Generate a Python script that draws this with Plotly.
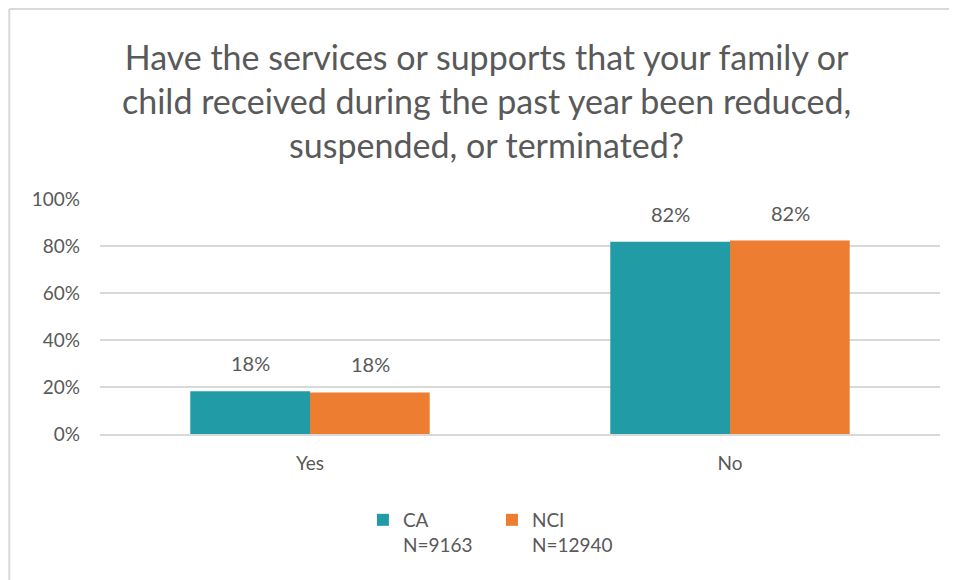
import plotly.graph_objects as go

# datos
categorias = ["Yes", "No"]
ca_vals = [0.182, 0.818]
nci_vals = [0.177, 0.823]
series = ["CA<br>N=9163", "NCI<br>N=12940"]
colores = ["#219CA6", "#ED7D31"]

titulo = ("Have the services or supports that your family or<br>"
          "child received during the past year been reduced,<br>"
          "suspended, or terminated?")

gris = "#595959"
fuente = "Lato, Open Sans, sans-serif"

fig = go.Figure()
for nombre, vals, color in zip(series, [ca_vals, nci_vals], colores):
    fig.add_trace(go.Bar(x=categorias, y=vals, name=nombre, marker_color=color,
                         marker_line_width=0))

# etiquetas de datos encima de cada barra
for desplaz, vals in zip([-60, 60], [ca_vals, nci_vals]):
    for cat, v in zip(categorias, vals):
        fig.add_annotation(x=cat, y=v, xref="x", yref="y", text=f"{v:.0%}",
                           showarrow=False, xshift=desplaz, yshift=14, yanchor="bottom",
                           font=dict(size=20, color=gris, family=fuente))

# titulo como anotacion para controlar la posicion
fig.add_annotation(text=titulo, xref="paper", yref="paper", x=0.4607, y=1.421,
                   xanchor="center", yanchor="middle", showarrow=False,
                   font=dict(size=34, color=gris, family=fuente))

fig.update_layout(
    width=949, height=572,
    margin=dict(l=92, r=17, t=191, b=146),
    paper_bgcolor="white", plot_bgcolor="white",
    font=dict(family=fuente, color=gris, size=19),
    barmode="group", bargap=0.43, bargroupgap=0,
    legend=dict(orientation="h", x=0.313, xanchor="left", y=-0.285, yanchor="top",
                valign="top", itemwidth=30, entrywidth=84,
                font=dict(size=19, color=gris)),
    showlegend=True,
)
fig.update_yaxes(range=[0, 1], dtick=0.2, tickformat=".0%", showgrid=True,
                 gridcolor="#D9D9D9", gridwidth=2, zeroline=False,
                 tickfont=dict(size=19, color=gris), ticklabelstandoff=19)
fig.update_xaxes(showline=True, linecolor="#D9D9D9", linewidth=2,
                 tickfont=dict(size=19, color=gris), ticklabelstandoff=11)

# marco gris del area del grafico (bordes izquierdo y superior)
fig.add_shape(type="line", xref="paper", yref="paper", x0=-0.108, x1=1.05, y0=1.808, y1=1.808,
              line=dict(color="#D9D9D9", width=2))
fig.add_shape(type="line", xref="paper", yref="paper", x0=-0.108, x1=-0.108, y0=1.808, y1=-0.7,
              line=dict(color="#D9D9D9", width=2))

fig.write_html("out.html")
